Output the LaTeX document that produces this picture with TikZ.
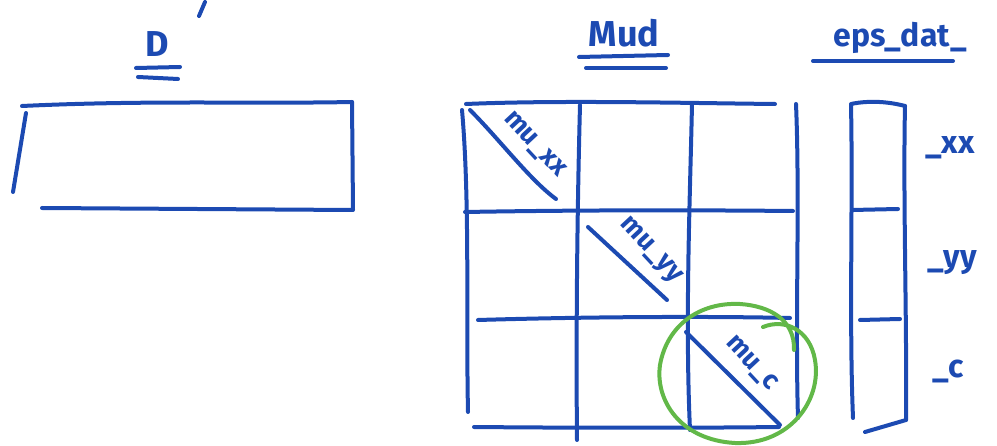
\documentclass[tikz,border=0pt]{standalone}
\usepackage{fontspec}
\setmainfont{Fira Sans}
\definecolor{pen}{RGB}{28,74,178}
\definecolor{hl}{RGB}{98,184,72}
\begin{document}
\begin{tikzpicture}[x=1pt,y=-1pt,
  ink/.style={draw=pen,line width=4pt,line cap=round,line join=round},
  grn/.style={draw=hl,line width=4pt,line cap=round},
  lbl/.style={text=pen,font=\fontsize{36}{36}\selectfont\bfseries,inner sep=1pt},
  dlbl/.style={text=pen,font=\fontsize{27}{27}\selectfont\bfseries,rotate=-47,inner sep=0pt}]
\useasboundingbox (0,0) rectangle (997,446);
% ---- D ----
\node[lbl] (D) at (157,44) {D};
\draw[ink] (136,68) -- (180,67);
\draw[ink] (138,77) -- (178,79);
\draw[ink] (205,2) -- (199,16);
\draw[ink] (22,106) .. controls (150,100) and (250,104) .. (352,102);
\draw[ink] (26,113) -- (13,192);
\draw[ink] (352,102) -- (353,210);
\draw[ink] (42,208) -- (352,210);
% ---- Mud ----
\node[lbl] (Mud) at (624,33) {Mud};
\draw[ink] (579,57) -- (668,55);
\draw[ink] (586,68) -- (666,68);
% grid
\draw[ink] (466,104) .. controls (560,100) and (680,103) .. (775,104);
\draw[ink] (462,110) .. controls (470,200) and (466,320) .. (468,412);
\draw[ink] (580,105) .. controls (577,220) and (576,340) .. (577,440);
\draw[ink] (692,104) .. controls (690,200) and (685,320) .. (690,430);
\draw[ink] (796,104) .. controls (800,200) and (795,320) .. (798,418);
\draw[ink] (465,212) .. controls (580,210) and (690,210) .. (793,211);
\draw[ink] (478,320) .. controls (580,317) and (700,316) .. (790,318);
\draw[ink] (474,427) .. controls (580,428) and (700,428) .. (779,427);
% diagonals
\draw[ink] (470,110) .. controls (500,140) and (530,180) .. (556,199);
\node[dlbl] (muxx) at (534,145) {mu\_xx};
\draw[ink] (588,227) -- (667,300);
\node[dlbl] (muyy) at (650,251) {mu\_yy};
\draw[ink] (686,332) -- (780,425);
\node[dlbl] (muc) at (751,364) {mu\_c};
% green circle
\draw[grn] (763,327) .. controls (785,318) and (810,330) .. (815,360)
  .. controls (822,400) and (790,445) .. (735,443)
  .. controls (680,440) and (655,400) .. (660,365)
  .. controls (667,325) and (700,302) .. (740,304)
  .. controls (770,306) and (795,320) .. (794,350);
% ---- eps_dat_ ----
\node[lbl,font=\fontsize{32}{32}\selectfont\bfseries] (eps) at (900,38) {eps\_dat\_};
\draw[ink] (813,61) -- (953,61);
\draw[ink] (851,105) .. controls (853,200) and (849,320) .. (853,418);
\draw[ink] (851,104) .. controls (870,100) and (890,102) .. (905,106);
\draw[ink] (905,106) .. controls (903,200) and (907,320) .. (906,420);
\draw[ink] (906,420) -- (865,432);
\draw[ink] (852,210) -- (898,209);
\draw[ink] (860,320) -- (900,319);
\node[lbl,font=\fontsize{32}{32}\selectfont\bfseries] (xx) at (950,148) {\_xx};
\node[lbl,font=\fontsize{32}{32}\selectfont\bfseries] (yy) at (952,263) {\_yy};
\node[lbl,font=\fontsize{32}{32}\selectfont\bfseries] (c) at (948,371) {\_c};
\end{tikzpicture}
\end{document}
